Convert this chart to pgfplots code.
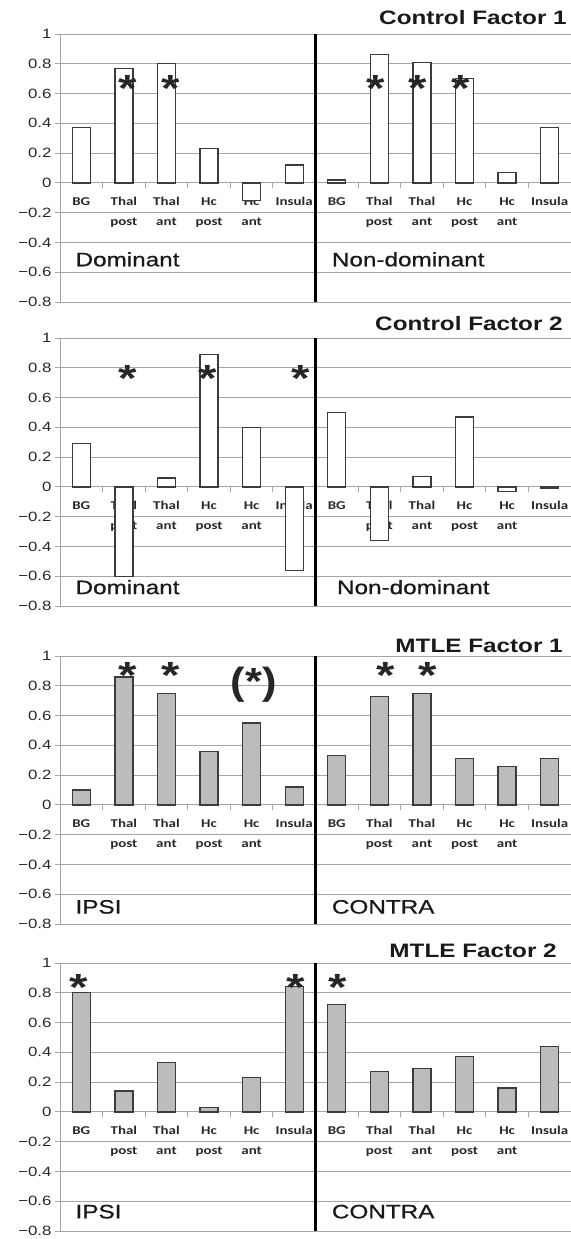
\documentclass[border=0pt]{standalone}
\usepackage{graphicx}
\usepackage{pgfplots}
\pgfplotsset{compat=1.18}
\usepackage{fontspec}
\setmainfont{Liberation Sans}
\newfontfamily\calibri{Carlito}
\newfontfamily\medfont[FakeBold=0.7]{Liberation Sans}
\definecolor{gridc}{RGB}{165,165,165}
\definecolor{barline}{RGB}{60,60,60}
\definecolor{mfill}{RGB}{188,188,188}
\definecolor{txt}{RGB}{40,40,40}
\newcommand\xs[1]{\scalebox{1.25}[1]{#1}}
\pgfplotsset{
 panel/.style={
  scale only axis, width=511bp, height=268bp,
  xmin=-0.5, xmax=11.5, ymin=-0.8, ymax=1,
  axis x line*=middle, axis y line*=left,
  hide obscured x ticks=false, hide obscured y ticks=false,
  ytick={-0.8,-0.6,-0.4,-0.2,0,0.2,0.4,0.6,0.8,1},
  yticklabels={\xs{−0.8},\xs{−0.6},\xs{−0.4},\xs{−0.2},\xs{0},\xs{0.2},\xs{0.4},\xs{0.6},\xs{0.8},\xs{1}},
  ymajorgrids, grid style={gridc, line width=1bp},
  axis line style={gridc, line width=1bp},
  xtick={0,...,11},
  xticklabels={\xs{BG},\xs{Thal}\\\xs{post},\xs{Thal}\\\xs{ant},\xs{Hc}\\\xs{post},\xs{Hc}\\\xs{ant},\xs{Insula},
               \xs{BG},\xs{Thal}\\\xs{post},\xs{Thal}\\\xs{ant},\xs{Hc}\\\xs{post},\xs{Hc}\\\xs{ant},\xs{Insula}},
  minor xtick={0.5,1.5,2.5,3.5,4.5,6.5,7.5,8.5,9.5,10.5},
  major x tick style={draw=none},
  tick align=outside, major tick length=5bp, minor tick length=5bp,
  tick style={gridc, line width=1bp},
  xticklabel style={font=\calibri\bfseries\fontsize{12}{20}\selectfont, align=center, text=txt, yshift=-6bp},
  yticklabel style={font=\fontsize{13.5}{14}\selectfont, text=txt},
  clip=false,
 },
 cbar/.style={ybar, bar width=18bp, fill=white, draw=barline, line width=1.3bp},
 mbar/.style={ybar, bar width=18bp, fill=mfill, draw=barline, line width=1.3bp},
 divider/.style={black, line width=2.6bp, no marks},
}
\tikzset{
 star/.style={font=\bfseries\fontsize{38}{38}\selectfont, inner sep=0pt, anchor=north, xscale=1.25, text=black!85},
 grp/.style={font=\medfont\fontsize{19.5}{20}\selectfont, inner sep=0pt, anchor=base west, xscale=1.25, text=black!90},
 ttl/.style={font=\bfseries\fontsize{19.5}{20}\selectfont, inner sep=0pt, anchor=base east, xscale=1.25, text=black!90},
}
\begin{document}
\begin{tikzpicture}
\useasboundingbox (0bp,0bp) rectangle (571bp,-1239bp);
% ---------- Control Factor 1
\node[ttl] at (567bp,-24bp) {Control Factor 1};
\begin{axis}[panel, at={(60bp,-34bp)}, anchor=north west]
\addplot[cbar] coordinates {(0,0.37) (1,0.77) (2,0.80) (3,0.23) (4,-0.12) (5,0.12)
 (6,0.02) (7,0.86) (8,0.81) (9,0.70) (10,0.07) (11,0.37)};
\addplot[divider] coordinates {(5.5,-0.8) (5.5,1)};
\node[star] at (axis cs:1.1,0.725) {*};
\node[star] at (axis cs:2.1,0.725) {*};
\node[star] at (axis cs:6.92,0.725) {*};
\node[star] at (axis cs:7.9,0.725) {*};
\node[star] at (axis cs:8.92,0.725) {*};
\node[grp] at (axis cs:-0.14,-0.56) {Dominant};
\node[grp] at (axis cs:5.88,-0.56) {Non-dominant};
\end{axis}
% ---------- Control Factor 2
\node[ttl] at (563bp,-330bp) {Control Factor 2};
\begin{axis}[panel, at={(60bp,-338bp)}, anchor=north west]
\addplot[cbar] coordinates {(0,0.29) (1,-0.60) (2,0.06) (3,0.89) (4,0.40) (5,-0.56)
 (6,0.50) (7,-0.36) (8,0.07) (9,0.47) (10,-0.03) (11,-0.01)};
\addplot[divider] coordinates {(5.5,-0.8) (5.5,1)};
\node[star] at (axis cs:1.1,0.815) {*};
\node[star] at (axis cs:2.97,0.815) {*};
\node[star] at (axis cs:5.15,0.815) {*};
\node[grp] at (axis cs:-0.14,-0.72) {Dominant};
\node[grp] at (axis cs:6.0,-0.72) {Non-dominant};
\end{axis}
% ---------- MTLE Factor 1
\node[ttl] at (563bp,-652bp) {MTLE Factor 1};
\begin{axis}[panel, at={(60bp,-656bp)}, anchor=north west]
\addplot[mbar] coordinates {(0,0.10) (1,0.86) (2,0.75) (3,0.36) (4,0.55) (5,0.12)
 (6,0.33) (7,0.73) (8,0.75) (9,0.31) (10,0.26) (11,0.31)};
\addplot[divider] coordinates {(5.5,-0.8) (5.5,1)};
\node[star] at (axis cs:1.1,0.955) {*};
\node[star] at (axis cs:2.1,0.955) {*};
\node[star, xscale=0.92] at (axis cs:4.05,0.93) {(*)};
\node[star] at (axis cs:7.15,0.955) {*};
\node[star] at (axis cs:8.14,0.955) {*};
\node[grp] at (axis cs:-0.14,-0.73) {IPSI};
\node[grp] at (axis cs:5.88,-0.73) {CONTRA};
\end{axis}
% ---------- MTLE Factor 2
\node[ttl] at (557bp,-957bp) {MTLE Factor 2};
\begin{axis}[panel, at={(60bp,-963bp)}, anchor=north west]
\addplot[mbar] coordinates {(0,0.80) (1,0.14) (2,0.33) (3,0.03) (4,0.23) (5,0.84)
 (6,0.72) (7,0.27) (8,0.29) (9,0.37) (10,0.16) (11,0.44)};
\addplot[divider] coordinates {(5.5,-0.8) (5.5,1)};
\node[star] at (axis cs:-0.07,0.925) {*};
\node[star] at (axis cs:5.03,0.925) {*};
\node[star] at (axis cs:6.02,0.925) {*};
\node[grp] at (axis cs:-0.14,-0.715) {IPSI};
\node[grp] at (axis cs:5.88,-0.715) {CONTRA};
\end{axis}
\end{tikzpicture}
\end{document}
